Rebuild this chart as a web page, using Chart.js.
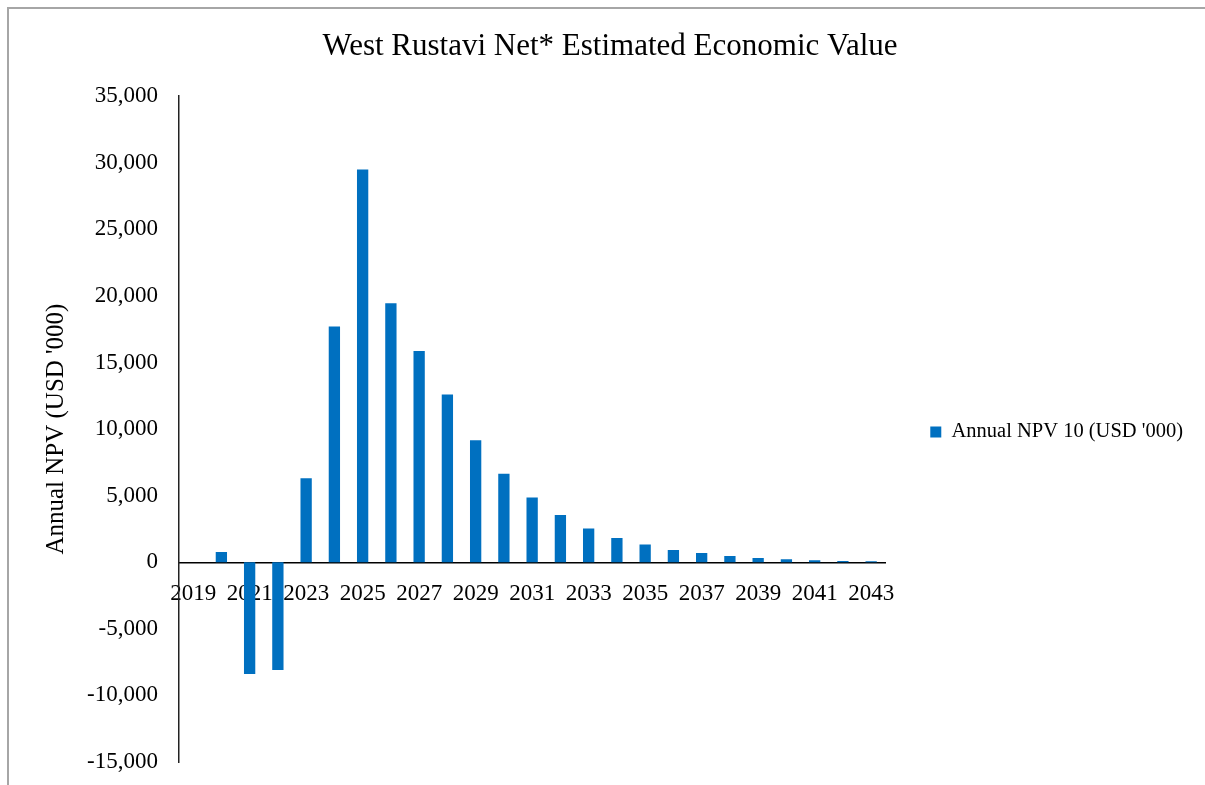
<!DOCTYPE html>
<html>
<head>
<meta charset="utf-8">
<script src="https://cdn.jsdelivr.net/npm/chart.js@4.4.1/dist/chart.umd.min.js"></script>
<style>
  html, body { margin: 0; padding: 0; background: #fff; }
  #wrap { position: relative; width: 1205px; height: 785px; overflow: hidden; }
  #frame { position: absolute; left: 7px; top: 7px; width: 1300px; height: 900px;
           border-left: 2px solid #a6a6a6; border-top: 2px solid #a6a6a6; pointer-events: none; }
  canvas { position: absolute; left: 0; top: 0; }
</style>
</head>
<body>
<div id="wrap">
  <canvas id="chart" width="1205" height="785"></canvas>
  <div id="frame"></div>
</div>
<script>
const YEARS = [
  '2019', '2020', '2021', '2022', '2023', '2024', '2025', '2026', '2027',
  '2028', '2029', '2030', '2031', '2032', '2033', '2034', '2035', '2036',
  '2037', '2038', '2039', '2040', '2041', '2042', '2043',
];

// Annual NPV 10 (USD '000)
const NPV_VALUES = [
  0, 770, -8400, -8100, 6300, 17700, 29500, 19450, 15870,
  12590, 9160, 6650, 4870, 3540, 2530, 1830, 1330, 930,
  700, 475, 325, 230, 150, 100, 75,
];

const Y_MIN = -15000;
const Y_MAX = 35000;
const Y_STEP = 5000;

const SERIES_LABEL = "Annual NPV 10 (USD '000)";
const TITLE = 'West Rustavi Net* Estimated Economic Value';
const Y_TITLE = "Annual NPV (USD '000)";

const BAR_COLOR = '#0070C0';
const FONT = "'Liberation Serif', 'Times New Roman', serif";

const ctx = document.getElementById('chart').getContext('2d');

new Chart(ctx, {
  type: 'bar',
  data: {
    labels: YEARS,
    datasets: [{
      label: SERIES_LABEL,
      data: NPV_VALUES,
      backgroundColor: BAR_COLOR,
      borderWidth: 0,
      barPercentage: 0.4,
      categoryPercentage: 1.0,
    }],
  },
  options: {
    responsive: false,
    animation: false,
    layout: {
      padding: { left: 27, right: 12, top: 0, bottom: 23 },
    },
    scales: {
      x: {
        type: 'category',
        position: { y: 0 },
        offset: true,
        grid: { display: false, drawTicks: false },
        border: { display: true, color: '#000', width: 1.5 },
        ticks: {
          autoSkip: false,
          maxRotation: 0,
          minRotation: 0,
          padding: 18,
          color: '#000',
          font: { family: FONT, size: 23 },
          callback: (value, index) => (index % 2 === 0 ? YEARS[index] : ''),
        },
        // labels hang off the zero line, so the axis needs no room of its own
        afterFit: (scale) => {
          scale.height = 0;
          scale.paddingTop = 0;
          scale.paddingBottom = 0;
        },
      },
      y: {
        min: Y_MIN,
        max: Y_MAX,
        grid: { display: false, drawTicks: false },
        border: { display: true, color: '#222', width: 1.5 },
        ticks: {
          stepSize: Y_STEP,
          padding: 21,
          color: '#000',
          font: { family: FONT, size: 23 },
        },
        title: {
          display: true,
          text: Y_TITLE,
          color: '#000',
          font: { family: FONT, size: 25 },
          padding: { top: 14, bottom: 0 },
        },
        afterFit: (scale) => {
          scale.width = 152;
          scale.paddingTop = 0;
          scale.paddingBottom = 0;
        },
      },
    },
    plugins: {
      title: {
        display: true,
        text: TITLE,
        color: '#000',
        font: { family: FONT, size: 31, weight: 'normal' },
        padding: { top: 28, bottom: 31 },
      },
      legend: {
        position: 'right',
        maxWidth: 320,
        title: {
          display: true,
          text: ' ',
          font: { family: FONT, size: 20 },
          padding: { top: 39, bottom: 39 },
        },
        labels: {
          boxWidth: 11,
          boxHeight: 11,
          padding: 45,
          color: '#000',
          font: { family: FONT, size: 20.5 },
        },
      },
      tooltip: { enabled: false },
    },
  },
});
</script>
</body>
</html>
